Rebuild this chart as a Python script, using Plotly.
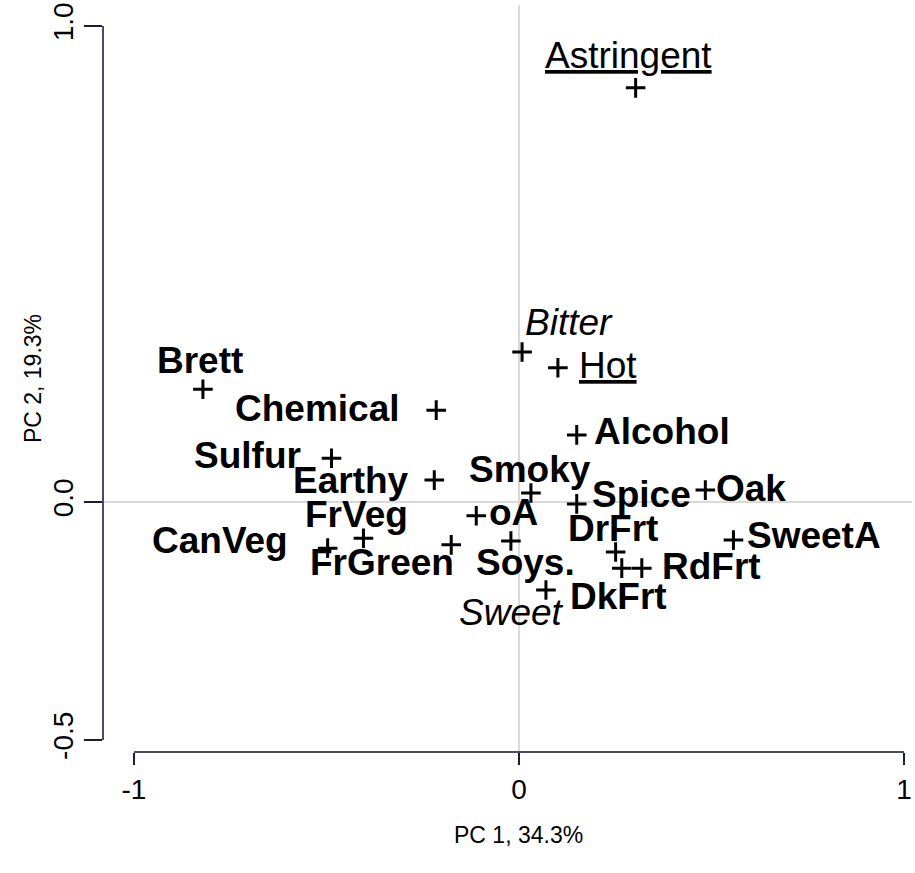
"""PCA biplot of wine attributes — PC1 vs PC2, R-style axes."""

import plotly.graph_objects as go

# ── Data ───────────────────────────────────────────────────────────────────────
names = [
    "Astringent", "Bitter", "Hot", "Sweet",
    "Brett", "Chemical", "Sulfur", "Earthy", "CanVeg", "FrVeg", "FrGreen",
    "Smoky", "oA", "Soys.", "Alcohol", "Spice", "Oak",
    "DrFrt", "SweetA", "RdFrt", "DkFrt",
]
pc1 = [
    0.303, 0.008, 0.101, 0.070,
    -0.821, -0.215, -0.487, -0.220, -0.497, -0.404, -0.176,
    0.031, -0.111, -0.021, 0.150, 0.150, 0.484,
    0.251, 0.557, 0.319, 0.267,
]
pc2 = [
    0.870, 0.315, 0.282, -0.185,
    0.237, 0.193, 0.092, 0.046, -0.097, -0.076, -0.090,
    0.019, -0.029, -0.082, 0.141, -0.004, 0.025,
    -0.105, -0.080, -0.139, -0.139,
]
# attribute type: mouthfeel (underlined), taste (italic), aroma (bold)
kinds = [
    "feel", "taste", "feel", "taste",
    "aroma", "aroma", "aroma", "aroma", "aroma", "aroma", "aroma",
    "aroma", "aroma", "aroma", "aroma", "aroma", "aroma",
    "aroma", "aroma", "aroma", "aroma",
]

x_ticks = [-1, 0, 1]
y_ticks = [-0.5, 0.0, 1.0]
y_tick_text = ["-0.5", "0.0", "1.0"]
x_title = "PC 1, 34.3%"
y_title = "PC 2, 19.3%"

# ── Label placement (pixel offsets from the point, like a repel layout) ───────
_OFFSETS = {
    "Astringent": (-7, -32), "Bitter": (47, -30), "Hot": (50, -2),
    "Sweet": (-34, 22), "Brett": (-3, -29), "Chemical": (-119, -2),
    "Sulfur": (-84, -3), "Earthy": (-83, 0), "CanVeg": (-108, -8),
    "FrVeg": (-7, -24), "FrGreen": (-69, 18), "Smoky": (-1, -23),
    "oA": (37, -3), "Soys.": (15, 21), "Alcohol": (85, -3),
    "Spice": (65, -9), "Oak": (46, -2), "DrFrt": (-3, -23),
    "SweetA": (81, -5), "RdFrt": (70, -2), "DkFrt": (-3, 28),
}

# ── Theme ──────────────────────────────────────────────────────────────────────
_FONT = "Liberation Sans, Arial, sans-serif"
_AXIS = "#4a4a68"
_TICK = "#1c1c3c"
_GRID = "#d9d9d9"
_LABEL_SIZE = 37
_TICK_SIZE = 28
_TITLE_SIZE = 23

_WRAP = {"feel": "<u>{}</u>", "taste": "<i>{}</i>", "aroma": "<b>{}</b>"}

fig = go.Figure()

fig.add_trace(go.Scatter(
    x=pc1, y=pc2,
    mode="markers",
    marker=dict(symbol="cross-thin", size=14, color="black",
                line=dict(color="black", width=3)),
    hovertext=names, hoverinfo="text",
    showlegend=False,
))

annotations = []
for name, x, y, kind in zip(names, pc1, pc2, kinds):
    dx, dy = _OFFSETS[name]
    annotations.append(dict(
        x=x, y=y, xref="x", yref="y",
        text=_WRAP[kind].format(name),
        showarrow=False,
        xanchor="center", yanchor="middle",
        xshift=dx, yshift=-dy,
        font=dict(family=_FONT, size=_LABEL_SIZE, color="black"),
    ))

# axis titles
annotations.append(dict(
    x=0, y=-0.111, xref="x", yref="paper", text=x_title,
    showarrow=False, xanchor="center", yanchor="middle",
    font=dict(family=_FONT, size=_TITLE_SIZE, color="black"),
))
annotations.append(dict(
    x=-0.087, y=0.5, xref="paper", yref="paper", text=y_title,
    showarrow=False, textangle=-90, xanchor="center", yanchor="middle",
    font=dict(family=_FONT, size=_TITLE_SIZE, color="black"),
))

# R-style axis lines that stop at the outer ticks
shapes = [
    dict(type="line", xref="paper", yref="y", x0=0, x1=0,
         y0=min(y_ticks), y1=max(y_ticks), line=dict(color=_AXIS, width=2)),
    dict(type="line", xref="x", yref="paper", x0=min(x_ticks), x1=max(x_ticks),
         y0=0, y1=0, line=dict(color=_AXIS, width=2)),
]

fig.update_layout(
    width=915, height=873,
    paper_bgcolor="white", plot_bgcolor="white",
    margin=dict(l=103, r=3, t=5, b=121),
    font=dict(family=_FONT, size=_TICK_SIZE, color="black"),
    xaxis=dict(
        range=[-1.0805, 1.0208], tickvals=x_ticks, ticktext=[str(v) for v in x_ticks],
        ticks="outside", ticklen=12, tickwidth=2, tickcolor=_TICK,
        showline=False, showgrid=False, zeroline=True, zerolinecolor=_GRID,
        zerolinewidth=1.5, tickfont=dict(size=_TICK_SIZE), automargin=False,
    ),
    yaxis=dict(
        range=[-0.5252, 1.0441], tickvals=y_ticks, ticktext=y_tick_text,
        ticks="outside", ticklen=18, tickwidth=2, tickcolor=_TICK,
        tickangle=-90,
        showline=False, showgrid=False, zeroline=True, zerolinecolor=_GRID,
        zerolinewidth=1.5, tickfont=dict(size=_TICK_SIZE), automargin=False,
    ),
    annotations=annotations,
    shapes=shapes,
)

# drop the browser's default 8px body margin so the 915x873 figure fills the window
fig.write_html(
    "out.html",
    config={"displayModeBar": False},
    post_script="document.body.style.margin='0';",
)
